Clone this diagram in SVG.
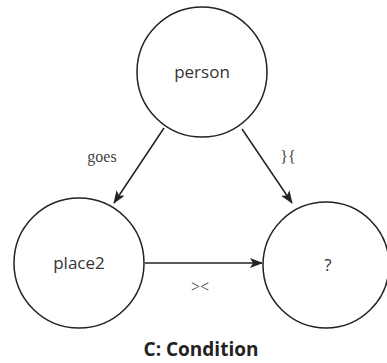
<svg xmlns="http://www.w3.org/2000/svg" width="387" height="363" viewBox="0 0 387 363">
<style>
.node{fill:#fff;stroke:#222;stroke-width:1.5}
.lbl{font-family:"Open Sans","Liberation Sans",sans-serif;font-size:17px;fill:#333;text-anchor:middle}
.edge{stroke:#222;stroke-width:1.5;fill:none;marker-end:url(#arr)}
.elbl{font-family:"Liberation Serif",serif;font-size:16px;fill:#444;text-anchor:middle}
.title{font-family:"Open Sans","Liberation Sans",sans-serif;font-size:19px;font-weight:bold;fill:#222;text-anchor:middle}
</style>
<defs>
<marker id="arr" viewBox="0 0 13 10" refX="12" refY="5" markerWidth="13" markerHeight="10" markerUnits="userSpaceOnUse" orient="auto">
<path d="M0,0 L13,5 L0,10 L3,5 Z" fill="#222"/>
</marker>
</defs>
<rect width="387" height="363" fill="#fff"/>
<g id="connectors">
<line class="edge" x1="164" y1="128" x2="114" y2="203"/>
<line class="edge" x1="242" y1="129" x2="292" y2="203"/>
<line class="edge" x1="145" y1="263" x2="262" y2="263"/>
<text class="elbl" x="102" y="162">goes</text>
<text class="elbl" x="288" y="162">}{</text>
<text class="elbl" x="200" y="292">&gt;&lt;</text>
</g>
<g id="person">
<circle class="node" cx="202" cy="72" r="65"/>
<text class="lbl" x="202" y="78">person</text>
</g>
<g id="place2">
<circle class="node" cx="79" cy="263" r="65"/>
<text class="lbl" x="79" y="269">place2</text>
</g>
<g id="unknown">
<circle class="node" cx="326" cy="265" r="63"/>
<text class="lbl" x="328" y="271">?</text>
</g>
<text class="title" x="201" y="356">C: Condition</text>
</svg>
